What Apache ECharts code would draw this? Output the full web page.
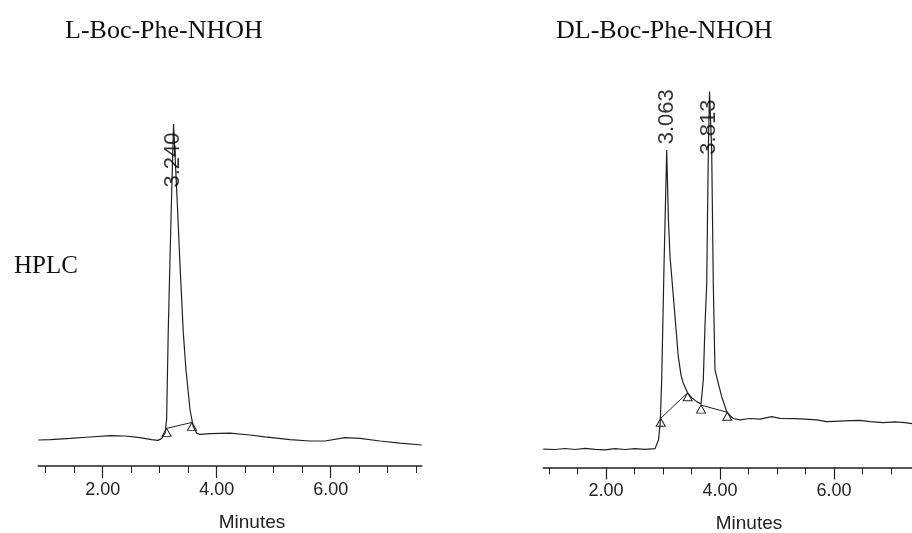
<!DOCTYPE html>
<html>
<head>
<meta charset="utf-8">
<script src="https://cdn.jsdelivr.net/npm/echarts@6/dist/echarts.min.js"></script>
<style>
html, body { margin: 0; padding: 0; background: #fff; }
#chart { width: 912px; height: 533px; }
</style>
</head>
<body>
<div id="chart"></div>
<script>
function $(selectors) {
    return document.querySelector(selectors);
}

// L-Boc-Phe-NHOH trace (minutes, detector response)
var leftTime = [0.87, 1.08, 1.43, 1.78, 2.13, 2.39, 2.65, 2.86, 2.97, 3.035, 3.093, 3.121, 3.149, 3.18, 3.211,
    3.243, 3.298, 3.356, 3.414, 3.461, 3.502, 3.532, 3.589, 3.649, 3.707, 3.882, 4.233, 4.584, 4.847,
    5.286, 5.637, 5.9, 6.251, 6.514, 6.865, 7.216, 7.596];
var leftSignal = [6.5, 6.6, 6.9, 7.25, 7.6, 7.5, 7.1, 6.6, 6.4, 6.9, 8.2, 11.5, 33.25, 51.5, 69,
    85.5, 69, 50.25, 33.25, 24, 18.25, 14, 9.8, 8.2, 7.9, 8.1, 8.2, 7.75, 7.3,
    6.6, 6.25, 6.25, 7.1, 6.9, 6.25, 5.7, 5.25];

// DL-Boc-Phe-NHOH trace
var rightTime = [0.9, 1.105, 1.281, 1.456, 1.632, 1.807, 1.982, 2.158, 2.333, 2.509, 2.684, 2.86, 2.895,
    2.921, 2.951, 2.977, 3.018, 3.065, 3.093, 3.123, 3.153, 3.211, 3.268, 3.316, 3.356, 3.433, 3.509,
    3.596, 3.667, 3.707, 3.737, 3.767, 3.795, 3.816, 3.854, 3.882, 3.912, 3.97, 4.03, 4.118, 4.175,
    4.233, 4.351, 4.526, 4.702, 4.907, 5.053, 5.316, 5.491, 5.696, 5.872, 6.105, 6.281, 6.456, 6.632,
    6.865, 7.07, 7.246, 7.368, 7.596];
var rightSignal = [4.6, 4.5, 4.75, 4.5, 4.8, 4.55, 4.4, 4.7, 4.5, 4.7, 4.55, 4.7, 5.0,
    6.9, 11.1, 21.9, 50.6, 79.4, 62.7, 52.7, 47.7, 37.7, 27.7, 23.1, 21.05, 18.6, 17.4,
    16.4, 15.9, 21.9, 35.6, 46.05, 79.4, 94, 79.4, 46.05, 24.4, 21.05, 17.7, 13.95, 13,
    12.25, 11.9, 12.25, 12.1, 12.7, 12.3, 12.2, 12.1, 11.9, 11.45, 11.6, 11.7, 11.8, 11.45,
    11.2, 11.4, 11.2, 10.95, 10.9];

// integration baselines (start / end of each peak)
var leftBaseTime = [3.121, 3.567];
var leftBaseValue = [9.4, 10.9];
var rightBaseTime = [[2.96, 3.433], [3.667, 4.128]];
var rightBaseValue = [[12.3, 18.7], [15.6, 13.8]];

// retention times and apex heights
var leftPeakRT = [3.240];
var leftPeakTop = [85.5];
var rightPeakRT = [3.063, 3.813];
var rightPeakTop = [79.4, 94];

var minorTicks = [1, 1.5, 2, 2.5, 3, 3.5, 4, 4.5, 5, 5.5, 6, 6.5, 7, 7.5];
var majorTicks = [2, 4, 6];

var myChart = echarts.init($('#chart'));
var ink = '#222';
var sans = 'Liberation Sans, Arial, sans-serif';
var serif = 'Liberation Serif, Times New Roman, serif';

var leftBox = { left: 38.3, top: 66, width: 383.4, height: 400, outerBoundsMode: 'none' };
var rightBox = { left: 543.3, top: 67.5, width: 383.4, height: 400, outerBoundsMode: 'none' };

function zip(xs, ys) {
    return xs.map(function(x, i) { return [x, ys[i]]; });
}

function mainAxis(grid, min, max, namePad) {
    return {
        type: 'value', gridIndex: grid, position: 'bottom', min: min, max: max,
        name: 'Minutes', nameLocation: 'middle', nameGap: 47,
        nameTextStyle: { color: ink, fontFamily: sans, fontSize: 19, padding: [0, 0, 0, namePad] },
        axisLine: { show: true, lineStyle: { color: ink, width: 1.5 } },
        axisTick: { show: true, length: 7, customValues: minorTicks, lineStyle: { color: ink, width: 1 } },
        axisLabel: {
            customValues: majorTicks, margin: 15, color: ink, fontFamily: sans, fontSize: 18,
            formatter: function(v) { return v.toFixed(2); }
        },
        splitLine: { show: false }
    };
}

// long ticks at the labelled minutes, drawn on an overlay grid
function majorAxis(grid, min, max) {
    return {
        type: 'value', gridIndex: grid, position: 'bottom', min: min, max: max,
        axisLine: { show: false },
        axisTick: { show: true, length: 12, customValues: majorTicks, lineStyle: { color: ink, width: 1.2 } },
        axisLabel: { show: false },
        splitLine: { show: false }
    };
}

function traceSeries(axis, time, signal) {
    return {
        type: 'line', xAxisIndex: axis, yAxisIndex: axis,
        data: zip(time, signal), showSymbol: false, silent: true,
        lineStyle: { color: ink, width: 1.2 }, z: 2
    };
}

function baseSeries(axis, time, value) {
    return {
        type: 'line', xAxisIndex: axis, yAxisIndex: axis,
        data: zip(time, value), showSymbol: true, symbol: 'triangle',
        symbolSize: [9, 8], symbolOffset: [0, '50%'],
        itemStyle: { color: 'rgba(0,0,0,0)', borderColor: ink, borderWidth: 1 },
        lineStyle: { color: ink, width: 1 }, z: 3
    };
}

// label centre sits this far (in signal units) from the apex
function labelSeries(axis, rt, top, shift) {
    return {
        type: 'scatter', xAxisIndex: axis, yAxisIndex: axis,
        data: rt.map(function(t, i) { return [t, top[i] + shift[i]]; }),
        symbolSize: 1, itemStyle: { color: 'rgba(0,0,0,0)' },
        label: {
            show: true, position: 'inside', rotate: 90, color: '#000',
            fontFamily: sans, fontSize: 22,
            formatter: function(p) { return p.value[0].toFixed(3); }
        },
        z: 4
    };
}

function hiddenY(grid) {
    return { type: 'value', gridIndex: grid, min: 0, max: 100, show: false };
}

var option = {
    animation: false,
    backgroundColor: '#fff',
    grid: [leftBox, rightBox, leftBox, rightBox],
    xAxis: [
        mainAxis(0, 0.87, 7.596, 44),
        mainAxis(1, 0.9, 7.626, 28),
        majorAxis(2, 0.87, 7.596),
        majorAxis(3, 0.9, 7.626)
    ],
    yAxis: [hiddenY(0), hiddenY(1), hiddenY(2), hiddenY(3)],
    graphic: [
        { type: 'text', left: 65, top: 18, style: { text: 'L-Boc-Phe-NHOH', fill: '#111', font: '26px ' + serif } },
        { type: 'text', left: 556, top: 18, style: { text: 'DL-Boc-Phe-NHOH', fill: '#111', font: '26px ' + serif } },
        { type: 'text', left: 14, top: 254, style: { text: 'HPLC', fill: '#111', font: '25px ' + serif } }
    ],
    series: [
        traceSeries(0, leftTime, leftSignal),
        baseSeries(0, leftBaseTime, leftBaseValue),
        labelSeries(0, leftPeakRT, leftPeakTop, [-9]),
        traceSeries(1, rightTime, rightSignal),
        baseSeries(1, rightBaseTime[0], rightBaseValue[0]),
        baseSeries(1, rightBaseTime[1], rightBaseValue[1]),
        labelSeries(1, rightPeakRT, rightPeakTop, [8.3, -8.9])
    ]
};

myChart.setOption(option);
</script>
</body>
</html>
